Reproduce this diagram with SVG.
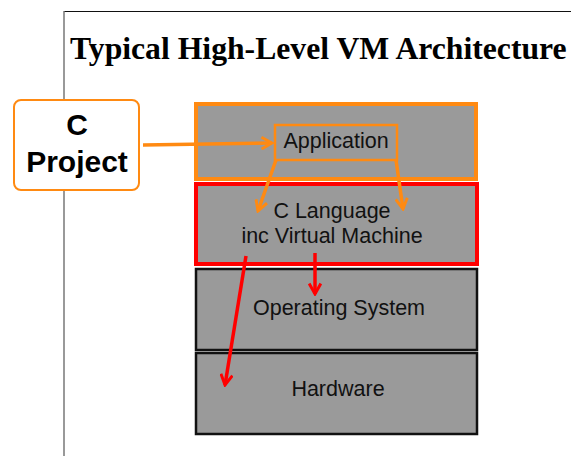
<svg xmlns="http://www.w3.org/2000/svg" width="571" height="456" viewBox="0 0 571 456">
<defs>
<style>
.layer{fill:#9a9a9a;}
.lbl{font-family:"Liberation Sans",Arial,sans-serif;font-size:21.5px;fill:#111;text-anchor:middle;}
.oc{stroke:#ff8a12;stroke-width:3.5;fill:none;}
.rc{stroke:#ff0000;stroke-width:3.5;fill:none;}
</style>
<marker id="ao" viewBox="0 0 12 12" refX="10" refY="6" markerWidth="14" markerHeight="14" markerUnits="userSpaceOnUse" orient="auto">
<path d="M1,1 L10,6 L1,11" fill="none" stroke="#ff8a12" stroke-width="2.5"/>
</marker>
<marker id="ar" viewBox="0 0 12 12" refX="10" refY="6" markerWidth="14" markerHeight="14" markerUnits="userSpaceOnUse" orient="auto">
<path d="M1,1 L10,6 L1,11" fill="none" stroke="#ff0000" stroke-width="2.5"/>
</marker>
</defs>
<rect width="571" height="456" fill="#fff"/>
<g id="frame">
<line x1="64" y1="11.5" x2="571" y2="11.5" stroke="#111" stroke-width="1.2"/>
<line x1="64" y1="11" x2="64" y2="456" stroke="#777" stroke-width="1.5"/>
</g>
<g id="title">
<text x="70" y="59" font-family="'Liberation Serif','Times New Roman',serif" font-weight="bold" font-size="31.7" fill="#000">Typical High-Level VM Architecture</text>
</g>
<g id="app-layer">
<rect class="layer" x="196" y="104" width="280" height="75" stroke="#ff8a12" stroke-width="4"/>
</g>
<g id="c-language">
<rect class="layer" x="196" y="184" width="281" height="80" stroke="#ff0000" stroke-width="4"/>
<text class="lbl" x="332" y="218">C Language</text>
<text class="lbl" x="332" y="243">inc Virtual Machine</text>
</g>
<g id="os">
<rect class="layer" x="196" y="269" width="281" height="81" stroke="#111" stroke-width="2.5"/>
<text class="lbl" x="339" y="315">Operating System</text>
</g>
<g id="hardware">
<rect class="layer" x="196" y="353" width="281" height="81" stroke="#111" stroke-width="2.5"/>
<text class="lbl" x="338" y="396">Hardware</text>
</g>
<g id="application">
<rect x="275" y="125" width="122" height="35" fill="#9a9a9a" stroke="#ff8a12" stroke-width="2.5"/>
<text class="lbl" x="336" y="148">Application</text>
</g>
<g id="c-project">
<rect x="14" y="100" width="125" height="90" rx="7" fill="#fff" stroke="#ff8a12" stroke-width="2"/>
<text x="77" y="135" font-family="'Liberation Sans',Arial,sans-serif" font-weight="bold" font-size="30" text-anchor="middle" fill="#000">C</text>
<text x="77" y="172" font-family="'Liberation Sans',Arial,sans-serif" font-weight="bold" font-size="30" text-anchor="middle" fill="#000">Project</text>
</g>
<g id="connectors">
<line class="oc" x1="143" y1="145" x2="272" y2="143" marker-end="url(#ao)"/>
<line class="oc" x1="276" y1="160" x2="258" y2="211" marker-end="url(#ao)"/>
<line class="oc" x1="396" y1="160" x2="403" y2="209" marker-end="url(#ao)"/>
<line class="rc" x1="315" y1="253" x2="315" y2="294" marker-end="url(#ar)"/>
<line class="rc" x1="246" y1="256" x2="225" y2="385" marker-end="url(#ar)"/>
</g>
</svg>
